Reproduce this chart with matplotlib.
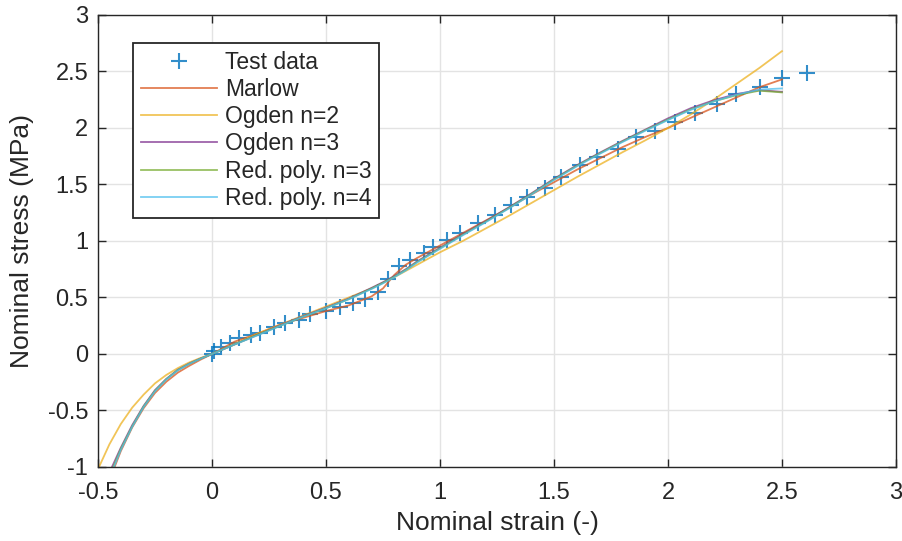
import matplotlib

matplotlib.use("Agg")
import matplotlib.pyplot as plt
from matplotlib.ticker import FormatStrFormatter

plt.rcParams["font.family"] = ["Liberation Sans", "DejaVu Sans"]
plt.rcParams["axes.unicode_minus"] = False

# test data (nominal strain, nominal stress in MPa)
test_strain = [0.00, 0.01, 0.04, 0.08, 0.12, 0.17, 0.21, 0.27, 0.32, 0.38, 0.43,
               0.50, 0.56, 0.62, 0.67, 0.73, 0.77, 0.82, 0.87, 0.93, 0.97, 1.03,
               1.09, 1.165, 1.24, 1.31, 1.38, 1.46, 1.53, 1.615, 1.69, 1.78, 1.86,
               1.945, 2.03, 2.12, 2.215, 2.30, 2.405, 2.50, 2.61]
test_stress = [0.00, 0.03, 0.06, 0.10, 0.14, 0.17, 0.19, 0.24, 0.27, 0.30, 0.35,
               0.38, 0.42, 0.45, 0.49, 0.55, 0.66, 0.78, 0.83, 0.89, 0.95, 1.01,
               1.07, 1.16, 1.23, 1.32, 1.39, 1.47, 1.57, 1.67, 1.74, 1.81, 1.92,
               1.97, 2.05, 2.13, 2.21, 2.30, 2.36, 2.44, 2.49]

# strain points at which the fitted models are drawn
fit_strain = [-0.5, -0.45, -0.4, -0.35, -0.3, -0.25, -0.2, -0.15, -0.1, -0.05, 0.0,
              0.1, 0.2, 0.3, 0.4, 0.5, 0.6, 0.7, 0.75, 0.8, 0.85, 0.9, 1.0, 1.1,
              1.2, 1.3, 1.4, 1.5, 1.6, 1.7, 1.8, 1.9, 2.0, 2.1, 2.2, 2.3, 2.4, 2.5]

marlow = [-1.40, -1.12, -0.86, -0.65, -0.48, -0.345, -0.245, -0.165, -0.105, -0.05, 0.0,
          0.11, 0.18, 0.26, 0.32, 0.38, 0.43, 0.51, 0.58, 0.70, 0.79, 0.85, 0.96, 1.07,
          1.18, 1.29, 1.41, 1.52, 1.63, 1.73, 1.83, 1.92, 2.00, 2.09, 2.18, 2.27, 2.36, 2.43]
ogden2 = [-1.02, -0.80, -0.62, -0.475, -0.36, -0.26, -0.185, -0.125, -0.075, -0.035, 0.0,
          0.09, 0.18, 0.26, 0.34, 0.42, 0.50, 0.58, 0.63, 0.68, 0.735, 0.79, 0.90, 1.00,
          1.11, 1.22, 1.335, 1.45, 1.565, 1.675, 1.785, 1.89, 2.00, 2.12, 2.25, 2.39, 2.53, 2.68]
ogden3 = [-1.30, -1.05, -0.83, -0.63, -0.46, -0.32, -0.22, -0.14, -0.085, -0.04, 0.0,
          0.085, 0.17, 0.255, 0.335, 0.41, 0.49, 0.585, 0.635, 0.69, 0.75, 0.82, 0.94, 1.06,
          1.175, 1.295, 1.42, 1.55, 1.67, 1.78, 1.885, 1.985, 2.085, 2.175, 2.245, 2.30, 2.335, 2.32]
redpoly3 = [-1.33, -1.08, -0.84, -0.64, -0.465, -0.325, -0.222, -0.142, -0.087, -0.041, 0.0,
            0.085, 0.17, 0.25, 0.33, 0.405, 0.485, 0.58, 0.63, 0.685, 0.745, 0.815, 0.935, 1.055,
            1.17, 1.29, 1.415, 1.545, 1.665, 1.775, 1.88, 1.98, 2.075, 2.165, 2.235, 2.29, 2.33, 2.315]
redpoly4 = [-1.35, -1.10, -0.85, -0.645, -0.47, -0.33, -0.225, -0.145, -0.088, -0.042, 0.0,
            0.085, 0.165, 0.25, 0.33, 0.405, 0.485, 0.575, 0.625, 0.68, 0.74, 0.81, 0.93, 1.05,
            1.165, 1.285, 1.41, 1.54, 1.66, 1.77, 1.875, 1.975, 2.07, 2.16, 2.235, 2.295, 2.34, 2.35]

models = [
    ("Marlow", marlow, "#D95319"),
    ("Ogden n=2", ogden2, "#EDB120"),
    ("Ogden n=3", ogden3, "#7E2F8E"),
    ("Red. poly. n=3", redpoly3, "#77AC30"),
    ("Red. poly. n=4", redpoly4, "#4DBEEE"),
]

fig = plt.figure(figsize=(9.03, 5.41), dpi=100, facecolor="white")
ax = fig.add_axes([0.1085, 0.1368, 0.8837, 0.8355])

ax.plot(test_strain, test_stress, "+", color="#0072BD", ms=12, mew=1.5,
        alpha=0.8, label="Test data")
for name, vals, col in models:
    ax.plot(fit_strain, vals, color=col, lw=1.3, alpha=0.75, label=name)

ax.set_xlim(-0.5, 3)
ax.set_ylim(-1, 3)
ax.set_xticks([-0.5, 0, 0.5, 1, 1.5, 2, 2.5, 3])
ax.set_yticks([-1, -0.5, 0, 0.5, 1, 1.5, 2, 2.5, 3])
ax.xaxis.set_major_formatter(FormatStrFormatter("%g"))
ax.yaxis.set_major_formatter(FormatStrFormatter("%g"))
ax.grid(True, color="#e3e3e3", lw=1)
ax.set_axisbelow(True)
ax.tick_params(direction="in", top=True, right=True, length=6, width=1,
               colors="#262626", labelsize=17)
ax.tick_params(axis="x", pad=11)
ax.tick_params(axis="y", pad=7)
for s in ax.spines.values():
    s.set_color("#262626")
    s.set_linewidth(1)

ax.set_xlabel("Nominal strain (-)", fontsize=19, color="#262626", labelpad=5)
ax.set_ylabel("Nominal stress (MPa)", fontsize=19, color="#262626", labelpad=10)

leg = ax.legend(loc="upper left", bbox_to_anchor=(0.044, 0.938), borderaxespad=0,
                fontsize=16.5, numpoints=1, handlelength=3.3, handletextpad=0.35,
                labelspacing=0.18, borderpad=0.35, fancybox=False, framealpha=1,
                edgecolor="#262626")
leg.get_frame().set_linewidth(1.3)
for t in leg.get_texts():
    t.set_color("#262626")

fig.savefig("out.png", dpi=100, facecolor="white")
